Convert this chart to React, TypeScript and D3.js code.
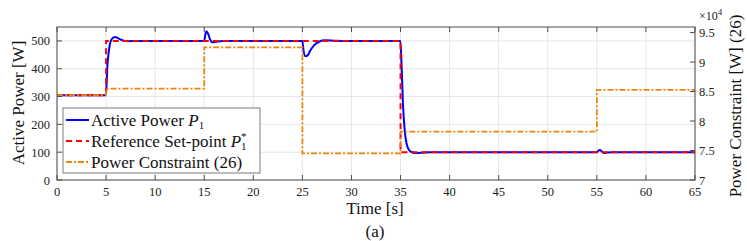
import React from "react";
import * as d3 from "d3";

const activeT = [0, 4.98, 5.05, 5.12, 5.22, 5.35, 5.55, 5.9, 6.3, 6.8, 7.3, 8, 15, 15.1, 15.22, 15.4, 15.6, 15.85, 16.2, 16.8, 17.5, 25, 25.1, 25.3, 25.5, 25.8, 26.2, 26.7, 27.3, 28.2, 29, 34.98, 35.1, 35.25, 35.45, 35.7, 36.0, 36.5, 37.2, 38, 55, 55.15, 55.3, 55.5, 55.75, 56.1, 56.6, 65];
const activeP = [305, 305, 340, 400, 445, 480, 505, 514, 508, 501, 499, 500, 500, 520, 535, 525, 505, 495, 497, 500, 500, 500, 470, 445, 447, 465, 485, 497, 502, 501, 500, 500, 420, 270, 170, 120, 103, 97, 98, 100, 100, 105, 108, 103, 97, 99, 100, 100];

const refT = [0, 5, 35, 65];
const refP = [305, 500, 100, 100];

const consT = [0, 5, 15, 25, 35, 55, 65];
const consP = [84400, 85500, 92500, 74500, 78200, 85300, 85300];

const xTicks = [0, 5, 10, 15, 20, 25, 30, 35, 40, 45, 50, 55, 60, 65];
const yLeftTicks = [0, 100, 200, 300, 400, 500];
const yRightTicks = [70000, 75000, 80000, 85000, 90000, 95000];

const legendLabels = ["Active Power", "Reference Set-point", "Power Constraint (26)"];

const W = 747, H = 241;
const L = 57, R = 695, T = 27, B = 180;
const FONT = "'Liberation Serif', 'Times New Roman', serif";

export default function App() {
  const x = d3.scaleLinear().domain([0, 65]).range([L, R]);
  const yL = d3.scaleLinear().domain([0, 550]).range([B, T]);
  const yR = d3.scaleLinear().domain([70000, 95950]).range([B, T]);

  const blueLine = d3.line<number>().x((_, i) => x(activeT[i])).y((d) => yL(d)).curve(d3.curveMonotoneX)(activeP) || "";
  const redLine = d3.line<number>().x((_, i) => x(refT[i])).y((d) => yL(d)).curve(d3.curveStepAfter)(refP) || "";
  const orangeLine = d3.line<number>().x((_, i) => x(consT[i])).y((d) => yR(d)).curve(d3.curveStepAfter)(consP) || "";

  const axisColor = "#4d4d4d";
  const gridColor = "#e6e6e6";
  const blue = "#0000ff";
  const red = "#ff0000";
  const orange = "#eb850e";
  const tickLen = 5;

  const legendX = 63, legendY = 108, legendW = 197, legendH = 65;
  const rowY = [120, 141, 162];

  return (
    <svg width={W} height={H} style={{ position: "absolute", left: 0, top: 0, background: "#fff", fontFamily: FONT }}>
      <rect x={0} y={0} width={W} height={H} fill="#fff" />
      {/* grid */}
      {xTicks.map((t) => (
        <line key={"gx" + t} x1={x(t)} x2={x(t)} y1={T} y2={B} stroke={gridColor} strokeWidth={1} />
      ))}
      {yLeftTicks.map((t) => (
        <line key={"gy" + t} x1={L} x2={R} y1={yL(t)} y2={yL(t)} stroke={gridColor} strokeWidth={1} />
      ))}
      {/* data */}
      <path d={blueLine} fill="none" stroke={blue} strokeWidth={2} />
      <path d={redLine} fill="none" stroke={red} strokeWidth={2} strokeDasharray="6,4" />
      <path d={orangeLine} fill="none" stroke={orange} strokeWidth={1.8} strokeDasharray="6,2,2,2" />
      {/* box */}
      <rect x={L} y={T} width={R - L} height={B - T} fill="none" stroke={axisColor} strokeWidth={1} />
      {/* x ticks */}
      {xTicks.map((t) => (
        <g key={"xt" + t}>
          <line x1={x(t)} x2={x(t)} y1={B} y2={B - tickLen} stroke={axisColor} />
          <line x1={x(t)} x2={x(t)} y1={T} y2={T + tickLen} stroke={axisColor} />
          <text x={x(t)} y={196} textAnchor="middle" fontSize={12.5} fill="#222">{t}</text>
        </g>
      ))}
      {/* left ticks */}
      {yLeftTicks.map((t) => (
        <g key={"yl" + t}>
          <line x1={L} x2={L + tickLen} y1={yL(t)} y2={yL(t)} stroke={axisColor} />
          <text x={50} y={yL(t) + 4.5} textAnchor="end" fontSize={12.5} fill="#222">{t}</text>
        </g>
      ))}
      {/* right ticks */}
      {yRightTicks.map((t) => (
        <g key={"yr" + t}>
          <line x1={R} x2={R - tickLen} y1={yR(t)} y2={yR(t)} stroke={axisColor} />
          <text x={699} y={yR(t) + 4.5} textAnchor="start" fontSize={12.5} fill="#222">{d3.format("~g")(t / 10000)}</text>
        </g>
      ))}
      <text x={699} y={20} fontSize={12} fill="#222">×10<tspan dy={-5} fontSize={9}>4</tspan></text>
      {/* axis labels */}
      <text x={375} y={214} textAnchor="middle" fontSize={17} fill="#111">Time [s]</text>
      <text x={375} y={237} textAnchor="middle" fontSize={17} fill="#111">(a)</text>
      <text transform={`translate(24,103) rotate(-90)`} textAnchor="middle" fontSize={17} fill="#111">Active Power [W]</text>
      <text transform={`translate(741,106) rotate(-90)`} textAnchor="middle" fontSize={17} fill="#111">Power Constraint [W] (26)</text>
      {/* legend */}
      <rect x={legendX} y={legendY} width={legendW} height={legendH} fill="#fff" stroke="#7a7a7a" strokeWidth={1} />
      <line x1={66} x2={89} y1={rowY[0]} y2={rowY[0]} stroke={blue} strokeWidth={2} />
      <line x1={66} x2={89} y1={rowY[1]} y2={rowY[1]} stroke={red} strokeWidth={2} strokeDasharray="6,4" />
      <line x1={66} x2={89} y1={rowY[2]} y2={rowY[2]} stroke={orange} strokeWidth={1.8} strokeDasharray="6,2,2,2" />
      <text x={91} y={rowY[0] + 5.5} fontSize={17} fill="#111">{legendLabels[0]} <tspan fontStyle="italic">P</tspan><tspan fontSize={11} dy={3}>1</tspan></text>
      <text x={91} y={rowY[1] + 5.5} fontSize={17} fill="#111">{legendLabels[1]} <tspan fontStyle="italic">P</tspan><tspan fontSize={11} dy={-7}>*</tspan><tspan fontSize={11} dx={-5.5} dy={10}>1</tspan></text>
      <text x={91} y={rowY[2] + 5.5} fontSize={17} fill="#111">{legendLabels[2]}</text>
    </svg>
  );
}
